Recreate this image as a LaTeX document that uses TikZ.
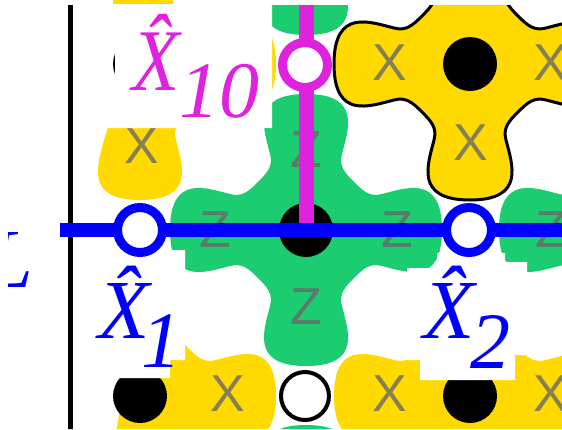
\documentclass[tikz,border=0pt]{standalone}
\usepackage{fontspec}
\setmainfont{Liberation Serif}
\newfontfamily\lettfont{Liberation Sans}
\definecolor{ylw}{RGB}{255,218,0}
\definecolor{grn}{RGB}{28,204,112}
\definecolor{mag}{RGB}{222,34,222}
\definecolor{blu}{RGB}{0,0,255}
\definecolor{ltr}{RGB}{105,105,105}
\tikzset{
 flower/.pic={
  \path[pic actions] (48,-48)
   .. controls (58,-38) and (64,-33) .. (76,-36)
   .. controls (100,-42) and (136,-56) .. (136,0)
   .. controls (136,56) and (100,42) .. (76,36)
   .. controls (64,33) and (58,38) .. (48,48)
   .. controls (38,58) and (33,64) .. (36,76)
   .. controls (42,100) and (56,136) .. (0,136)
   .. controls (-56,136) and (-42,100) .. (-36,76)
   .. controls (-33,64) and (-38,58) .. (-48,48)
   .. controls (-58,38) and (-64,33) .. (-76,36)
   .. controls (-100,42) and (-136,56) .. (-136,0)
   .. controls (-136,-56) and (-100,-42) .. (-76,-36)
   .. controls (-64,-33) and (-58,-38) .. (-48,-48)
   .. controls (-38,-58) and (-33,-64) .. (-36,-76)
   .. controls (-42,-100) and (-56,-136) .. (0,-136)
   .. controls (56,-136) and (42,-100) .. (36,-76)
   .. controls (33,-64) and (38,-58) .. (48,-48) -- cycle;
 },
 flowerthree/.pic={
  \path[pic actions] (48,-48)
   .. controls (58,-38) and (64,-33) .. (76,-36)
   .. controls (100,-42) and (136,-56) .. (136,0)
   .. controls (136,56) and (100,42) .. (76,36)
   .. controls (64,33) and (58,38) .. (48,48)
   .. controls (38,58) and (33,64) .. (36,76)
   .. controls (42,100) and (56,136) .. (0,136)
   .. controls (-56,136) and (-42,100) .. (-36,76)
   .. controls (-31,58) and (-20,36) .. (-20,0)
   .. controls (-20,-36) and (-31,-58) .. (-36,-76)
   .. controls (-42,-100) and (-56,-136) .. (0,-136)
   .. controls (56,-136) and (42,-100) .. (36,-76)
   .. controls (33,-64) and (38,-58) .. (48,-48) -- cycle;
 },
 lett/.style={font=\lettfont\fontsize{52}{52}\selectfont, text=ltr, text opacity=0.8, inner sep=0pt},
 lab/.style={font=\fontsize{84}{84}\selectfont\itshape, inner sep=0pt, anchor=base west},
 sub/.style={font=\fontsize{80}{80}\selectfont\itshape, inner sep=0pt, anchor=base west},
 dot/.style={circle, fill=black, minimum size=54pt, inner sep=0pt},
 qubit/.style={circle, fill=white, line width=9pt, minimum size=45pt, inner sep=0pt},
 wqubit/.style={circle, fill=white, draw=black, line width=4pt, minimum size=48pt, inner sep=0pt},
 boxw/.style={fill=white, draw=none},
 blueline/.style={draw=blu, line width=14pt},
 magline/.style={draw=mag, line width=15pt},
 bound/.style={draw=black, line width=5pt},
}
\begin{document}
\begin{tikzpicture}[x=1pt,y=-1pt]
\useasboundingbox (0,0) rectangle (562,429);
\begin{scope}
\clip (8,5) rectangle (562,429) (113,0) rectangle (173,5);
% stabilizers
\pic[fill=grn] at (306,230) {flower};
\pic[fill=grn] at (635,230) {flower};
\pic[fill=grn] at (306,-101) {flower};
\pic[fill=grn] at (306,561) {flower};
\pic[fill=ylw] at (140,64) {flowerthree};
\pic[fill=ylw] at (140,396) {flowerthree};
\pic[fill=ylw] at (470,396) {flower};
\pic[fill=ylw, draw=black, line width=3pt] at (470,64) {flower};
% letters
\node[lett] (xa) at (142,146) {X};
\node[lett] (xb) at (390,63) {X};
\node[lett] (xc) at (471,143) {X};
\node[lett] (xd) at (551,63) {X};
\node[lett] (xe) at (228,394) {X};
\node[lett] (xf) at (390,394) {X};
\node[lett] (xg) at (551,394) {X};
\node[lett] (za) at (215,230) {Z};
\node[lett] (zb) at (397,230) {Z};
\node[lett] (zc) at (306,307) {Z};
\node[lett] (zd) at (306,150) {Z};
\node[lett] (ze) at (551,230) {Z};
% stabilizer centres
\node[dot] (s00) at (140,64) {};
\node[dot] (s20) at (470,64) {};
\node[dot] (c) at (306,230) {};
\node[dot] (s02) at (140,396) {};
\node[dot] (s22) at (470,396) {};
% boundary
\coordinate (bt) at (70,0);
\coordinate (bb) at (70,440);
\draw[bound] (bt) -- (bb);
% label boxes
\path[boxw] (96,4) -- (272,4) -- (272,128) -- (106,128) -- (106,88) -- (115,88) -- (115,50) -- (96,50) -- cycle;
\path[boxw] (90,250) -- (185,250) -- (185,360) -- (170,360) -- (170,378) -- (90,378) -- cycle;
\path[boxw] (407,268) -- (437,268) -- (437,253) -- (505,253) -- (505,262) -- (527,262) -- (527,355) -- (515,355) -- (515,380) -- (420,380) -- (420,360) -- (407,360) -- cycle;
% labels
\node[lab, text=mag, font=\fontsize{88}{88}\selectfont\itshape] (h10) at (132,90) {\scalebox{0.88}[1]{\^{X}}};
\node[sub, text=mag] (s10) at (179,117) {10};
\node[lab, text=blu] (h1) at (98,338) {\^{X}};
\node[sub, text=blu] (s1) at (141,367) {1};
\node[lab, text=blu] (h2) at (423,338) {\^{X}};
\node[sub, text=blu] (s2) at (470,368) {2};
\node[lab, text=blu] (lL) at (-14,287) {L};
% logical operators
\coordinate (mt) at (306,-5);
\draw[magline] (mt) -- (c.center);
\coordinate (bl) at (60,230);
\coordinate (br) at (575,230);
\draw[blueline] (bl) -- (br);
% qubits
\node[qubit, draw=mag] (q10) at (305,65) {};
\node[qubit, draw=blu] (q1) at (140,230) {};
\node[qubit, draw=blu] (q2) at (469,230) {};
\node[wqubit] (q12) at (305,396) {};
\end{scope}
\end{tikzpicture}
\end{document}
